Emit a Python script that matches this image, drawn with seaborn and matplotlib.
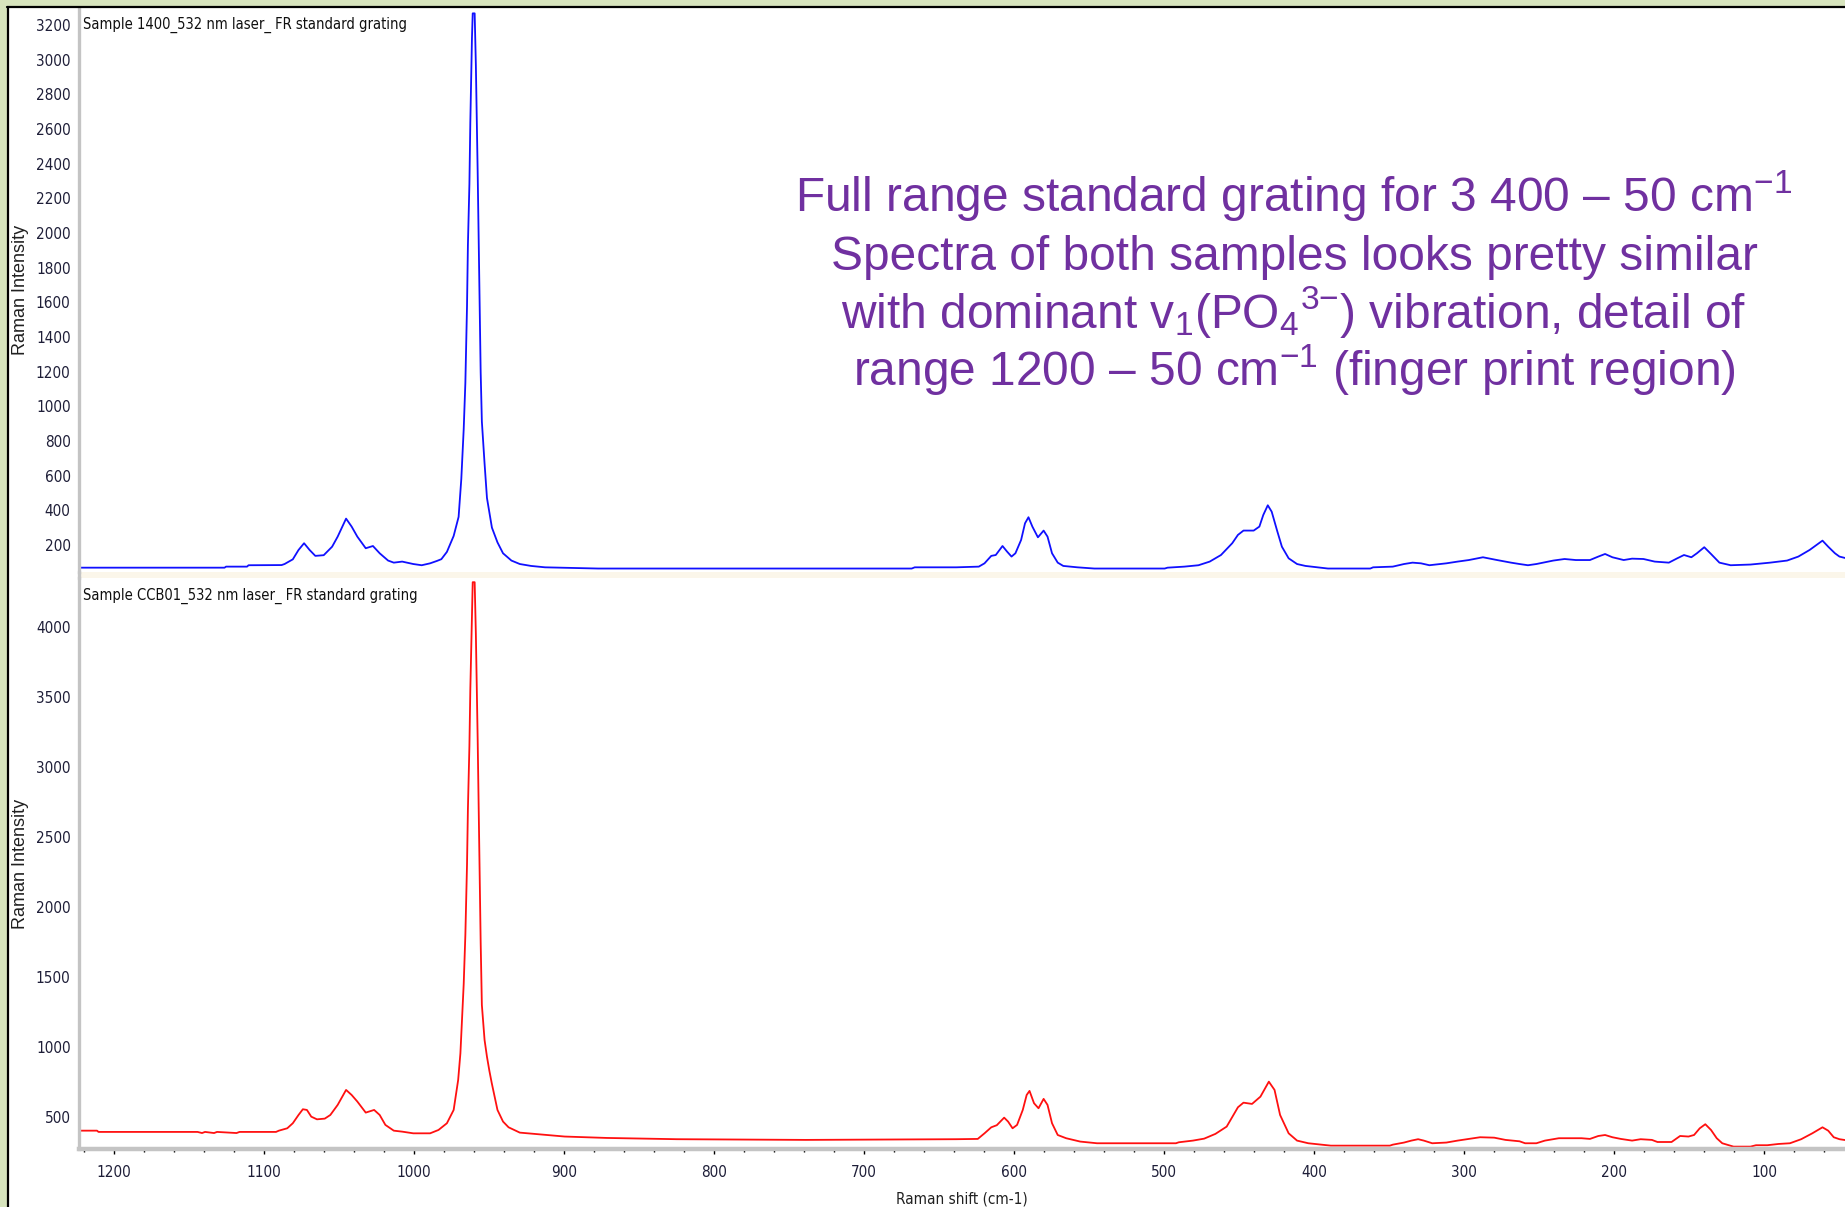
import matplotlib
matplotlib.use("Agg")
import matplotlib.pyplot as plt
import seaborn as sns
from matplotlib import font_manager
from matplotlib.ticker import MultipleLocator, FixedLocator
from matplotlib.patches import Rectangle
from matplotlib.lines import Line2D

# ---------------- data ----------------
upper_shift = [1224, 1126, 1125, 1111, 1110, 1088, 1086, 1080.5, 1076.7, 1073.0, 1069.3,
               1065.5, 1059.9, 1054.3, 1050.6, 1045.0, 1041.3, 1037.5, 1031.9, 1027.1,
               1022.6, 1017.0, 1013.2, 1007.6, 1000.2, 994.6, 989.0, 984.4, 981.5, 977.8,
               973.3, 970.0, 968.2, 966.6, 965.5, 964.4, 963.8, 962.8, 962.2, 961.1, 960.6,
               959.3, 958.5, 957.3, 956.2, 955.3, 954.5, 952.7, 951.1, 947.8, 944.1, 940.4,
               934.8, 929.2, 921.7, 912.4, 877, 668, 666, 638.3, 623.3, 619.5, 615.0, 612.0,
               607.5, 604.5, 601.5, 598.9, 595.1, 592.5, 590.2, 587.6, 583.9, 580.1, 577.5,
               574.5, 570.7, 567.0, 557.6, 546.3, 499.4, 497.5, 486.3, 476.9, 469.4, 461.9,
               454.4, 450.6, 446.9, 440.1, 436.3, 433.7, 430.7, 428.1, 424.3, 421.3, 416.8,
               411.2, 405.6, 390.6, 362.4, 360.5, 347.4, 339.9, 334.2, 328.6, 323.0, 311.7,
               304.2, 296.7, 287.3, 277.9, 268.6, 262.9, 257.3, 251.7, 240.4, 232.9, 225.4,
               216.0, 210.4, 205.9, 201.0, 193.5, 187.9, 180.3, 172.8, 163.4, 157.8, 153.3,
               148.4, 144.7, 139.8, 135.3, 129.7, 122.2, 109.0, 95.9, 84.6, 77.1, 69.6, 61.0,
               57.2, 52.7, 49.7, 46.0]
upper_intensity = [69, 69, 75, 75, 83, 84, 90, 117, 171, 210, 171,
                   137, 141, 190, 248, 352, 306, 248, 181, 194,
                   152, 110, 98, 104, 90, 83, 94, 108, 118, 160,
                   252, 362, 581, 869, 1135, 1576, 1931, 2283, 2635, 3125, 3267,
                   3267, 2969, 2352, 1709, 1198, 912, 670, 471, 300, 215, 152,
                   110, 90, 79, 71, 64, 64, 71, 71, 75, 94, 137, 142,
                   194, 162, 133, 152, 229, 325, 360, 306, 244, 283, 248,
                   152, 98, 79, 71, 64, 64, 69, 75, 83, 104, 142,
                   210, 258, 283, 283, 306, 373, 429, 392, 277, 190, 123,
                   90, 79, 64, 64, 71, 75, 90, 98, 94, 83, 94,
                   104, 113, 129, 113, 98, 90, 83, 90, 110, 119, 113,
                   113, 133, 148, 129, 113, 121, 119, 104, 98, 123, 142,
                   129, 152, 187, 148, 98, 83, 87, 98, 110, 133, 171, 225,
                   190, 152, 133, 125]

lower_shift = [1224.3, 1211, 1210, 1144, 1141, 1139, 1133, 1131, 1118, 1116, 1091.7, 1089.8,
               1084.2, 1080.5, 1076.7, 1073.8, 1071.1, 1068.2, 1064.4, 1059.2, 1055.5,
               1050.6, 1045.0, 1041.3, 1037.5, 1031.9, 1026.3, 1022.6, 1018.8, 1013.2,
               1007.6, 1000.2, 989.0, 983.4, 977.8, 973.3, 970.3, 968.8, 966.6, 965.5,
               964.4, 963.8, 962.8, 962.2, 961.1, 960.6, 959.3, 958.5, 957.3, 956.2, 955.3,
               954.5, 952.7, 951.1, 949.5, 947.9, 944.1, 940.4, 936.7, 929.2, 914.2, 899.3,
               871.3, 824.6, 738.7, 638.3, 624.0, 619.5, 615.0, 611.3, 606.4, 603.8, 600.8,
               597.8, 594.0, 591.4, 589.5, 586.5, 583.5, 580.1, 577.5, 574.5, 570.7, 565.1,
               555.7, 544.5, 491.9, 490.0, 480.6, 473.1, 465.6, 458.1, 450.6, 446.9, 441.2,
               435.6, 430.0, 426.2, 422.5, 416.8, 411.2, 403.7, 388.7, 349.3, 347.4, 339.9,
               335.0, 330.5, 326.7, 321.1, 311.7, 304.2, 296.7, 289.2, 279.8, 272.3, 262.9,
               259.2, 251.7, 246.0, 236.7, 221.6, 216.0, 210.4, 205.9, 201.0, 195.4, 187.9,
               182.2, 174.7, 171.0, 161.6, 155.9, 150.3, 146.6, 142.8, 139.1, 135.3, 131.5,
               127.8, 120.3, 109.0, 105.3, 97.8, 90.3, 82.7, 75.2, 67.8, 61.0, 57.2, 53.5,
               49.7, 46.0]
lower_intensity = [402, 402, 393, 393, 385, 393, 385, 393, 385, 393, 393, 402,
                   419, 455, 514, 555, 550, 502, 483, 488, 514,
                   586, 693, 657, 610, 531, 550, 514, 443, 402,
                   395, 383, 383, 407, 455, 550, 764, 955, 1450, 1800,
                   2300, 2700, 3150, 3550, 4100, 4320, 4320, 3950, 3200, 2400, 1750,
                   1300, 1050, 930, 830, 741, 550, 467, 426, 388, 374, 360,
                   350, 341, 336, 341, 343, 383, 426, 441, 495, 467, 419,
                   443, 550, 657, 686, 598, 562, 629, 586, 455, 371, 348,
                   324, 312, 312, 319, 331, 345, 379, 431, 569, 602, 593,
                   645, 752, 693, 514, 383, 331, 312, 295, 295, 302, 317,
                   331, 341, 331, 312, 317, 331, 343, 355, 352, 336, 326,
                   312, 312, 331, 348, 348, 343, 364, 371, 355, 343, 331,
                   341, 336, 321, 321, 364, 360, 371, 419, 448, 407, 348,
                   312, 288, 288, 298, 298, 307, 312, 341, 383, 426, 402, 355,
                   341, 335]

upper_title = "Sample 1400_532 nm laser_ FR standard grating"
lower_title = "Sample CCB01_532 nm laser_ FR standard grating"
y_label = "Raman Intensity"
x_label = "Raman shift (cm-1)"
x_ticks = [1200, 1100, 1000, 900, 800, 700, 600, 500, 400, 300, 200, 100]
upper_y_ticks = [200, 400, 600, 800, 1000, 1200, 1400, 1600, 1800, 2000, 2200, 2400,
                 2600, 2800, 3000, 3200]
lower_y_ticks = [500, 1000, 1500, 2000, 2500, 3000, 3500, 4000]
note_lines = [r"Full range standard grating for 3 400 – 50 cm$^{-1}$",
              "Spectra of both samples looks pretty similar",
              r"with dominant v$_1$(PO$_4$$^{3{-}}$) vibration, detail of",
              r"range 1200 – 50 cm$^{-1}$ (finger print region)"]

# ---------------- style ----------------
sns.set_style("white")
plt.rcParams['font.family'] = ['Liberation Sans', 'DejaVu Sans']
plt.rcParams['mathtext.fontset'] = 'custom'
plt.rcParams['mathtext.rm'] = 'Liberation Sans'
plt.rcParams['mathtext.it'] = 'Liberation Sans:italic'
plt.rcParams['mathtext.bf'] = 'Liberation Sans:bold'

names = {f.name for f in font_manager.fontManager.ttflist}
if 'Liberation Sans Narrow' in names:
    narrow = dict(family='Liberation Sans Narrow')
else:
    narrow = dict(family='DejaVu Sans', stretch='condensed')

W, H = 1845, 1207
fig = plt.figure(figsize=(W / 100, H / 100), dpi=100, facecolor='white')


def box(x0, y0, x1, y1):
    return [x0 / W, 1 - y1 / H, (x1 - x0) / W, (y1 - y0) / H]


ax1 = fig.add_axes(box(79, 8, 1845, 572))
ax2 = fig.add_axes(box(79, 578, 1845, 1149))

sns.lineplot(x=upper_shift, y=upper_intensity, ax=ax1, color='#1010ff', lw=1.3,
             estimator=None, sort=False)
sns.lineplot(x=lower_shift, y=lower_intensity, ax=ax2, color='#ff1010', lw=1.3,
             estimator=None, sort=False)

tick_color = '#1e1e38'
spine_gray = '#c4c4c4'
for ax in (ax1, ax2):
    ax.set_xlim(1223, 46)
    ax.set_facecolor('white')
    for s in ('top', 'right'):
        ax.spines[s].set_visible(False)
    ax.spines['left'].set_color(spine_gray)
    ax.spines['left'].set_linewidth(2.4)
    ax.tick_params(axis='y', which='major', direction='out', length=3, width=1,
                   color='black', pad=3, labelcolor=tick_color)
    ax.tick_params(axis='y', which='minor', direction='inout', length=1.6, width=1.4,
                   color='black', left=True)
    ax.set_ylabel(y_label, fontsize=13, color='#202020')
    ax.yaxis.set_label_coords(-0.0282, 0.5)

ax1.set_ylim(44, 3298)
ax1.yaxis.set_major_locator(FixedLocator(upper_y_ticks))
ax1.yaxis.set_minor_locator(MultipleLocator(50))
ax1.spines['bottom'].set_visible(False)
ax1.tick_params(axis='x', which='both', bottom=False, labelbottom=False)
ax1.set_xlabel("")

ax2.set_ylim(271, 4350)
ax2.yaxis.set_major_locator(FixedLocator(lower_y_ticks))
ax2.yaxis.set_minor_locator(MultipleLocator(100))
ax2.xaxis.set_major_locator(FixedLocator(x_ticks))
ax2.xaxis.set_minor_locator(MultipleLocator(20))
ax2.spines['bottom'].set_color(spine_gray)
ax2.spines['bottom'].set_linewidth(3.2)
ax2.tick_params(axis='x', which='major', direction='out', length=3.5, width=1,
                color='black', pad=8, labelcolor=tick_color, bottom=True)
ax2.tick_params(axis='x', which='minor', direction='out', length=2.2, width=1,
                color='black', bottom=True)
ax2.set_xlabel(x_label, fontsize=11, color='#202020', **narrow)
ax2.xaxis.set_label_coords(0.5, -0.075)

for ax in (ax1, ax2):
    for lab in ax.get_xticklabels() + ax.get_yticklabels():
        lab.set_fontsize(11)
        lab.set_fontfamily(narrow['family'])
        if 'stretch' in narrow:
            lab.set_fontstretch(narrow['stretch'])

# panel titles
fig.text(83 / W, 1 - 25 / H, upper_title, fontsize=10.5, color='#101010', va='center',
         ha='left', **narrow)
fig.text(83 / W, 1 - 596 / H, lower_title, fontsize=10.5, color='#101010', va='center',
         ha='left', **narrow)

# separator band between panels and axis continuation
fig.add_artist(Rectangle((80 / W, 1 - 578 / H), (W - 80) / W, 6 / H,
                         transform=fig.transFigure, color='#fbf6ea', lw=0, zorder=0))
fig.add_artist(Line2D([79 / W, 79 / W], [1 - 579 / H, 1 - 571 / H],
                      transform=fig.transFigure, color=spine_gray, lw=2.4))

# green frame and black border
green = '#d7e4bd'
fig.add_artist(Rectangle((0, 0), 6.5 / W, 1, transform=fig.transFigure, color=green,
                         lw=0, zorder=5))
fig.add_artist(Rectangle((0, 1 - 6 / H), 1, 6 / H, transform=fig.transFigure, color=green,
                         lw=0, zorder=5))
fig.add_artist(Line2D([7.5 / W, 7.5 / W], [0, 1 - 6.5 / H], transform=fig.transFigure,
                      color='black', lw=1.6, zorder=6))
fig.add_artist(Line2D([7 / W, 1], [1 - 7 / H, 1 - 7 / H], transform=fig.transFigure,
                      color='black', lw=1.6, zorder=6))

# annotation
baselines = [212, 270, 328, 386]
for line, yb in zip(note_lines, baselines):
    fig.text(1294 / W, 1 - yb / H, line, fontsize=34.5, color='#7030a0', ha='center',
             va='baseline')

fig.savefig("out.png", dpi=100, facecolor='white')
